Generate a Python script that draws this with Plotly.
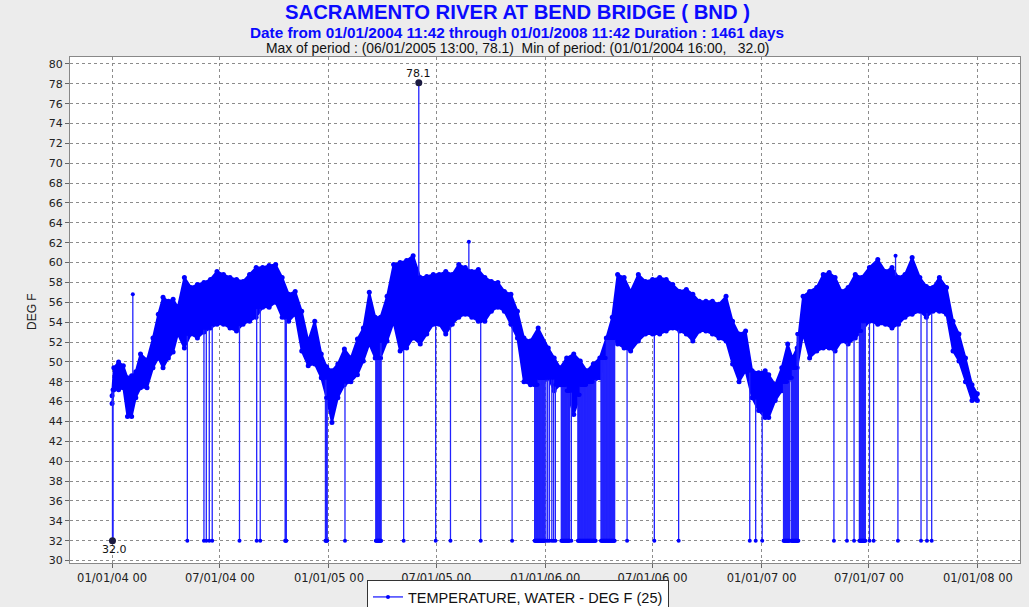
import numpy as np
import pandas as pd
import plotly.graph_objects as go

# ---------------- data ----------------
band_dates = [
    "2004-01-01", "2004-01-04", "2004-01-12", "2004-01-20", "2004-01-27", "2004-02-03", "2004-02-10",
    "2004-02-18", "2004-02-29", "2004-03-10", "2004-03-19", "2004-03-27", "2004-04-05", "2004-04-13",
    "2004-04-21", "2004-05-02", "2004-05-13", "2004-05-24", "2004-06-04", "2004-06-15", "2004-06-26",
    "2004-07-07", "2004-07-18", "2004-07-29", "2004-08-09", "2004-08-20", "2004-08-31", "2004-09-11",
    "2004-09-22", "2004-10-03", "2004-10-14", "2004-10-25", "2004-11-05", "2004-11-16", "2004-11-27",
    "2004-12-08", "2004-12-19", "2004-12-28",
    "2005-01-06", "2005-01-16", "2005-01-27", "2005-02-07", "2005-02-18", "2005-02-28", "2005-03-10",
    "2005-03-20", "2005-03-29", "2005-04-09", "2005-04-20", "2005-05-01", "2005-05-12", "2005-05-23",
    "2005-06-04", "2005-06-15", "2005-06-26", "2005-07-06", "2005-07-17", "2005-07-28", "2005-08-08",
    "2005-08-19", "2005-08-30", "2005-09-10", "2005-09-21", "2005-10-02", "2005-10-13", "2005-10-24",
    "2005-11-04", "2005-11-15", "2005-11-26", "2005-12-07", "2005-12-20",
    "2006-01-06", "2006-01-16", "2006-01-26", "2006-02-06", "2006-02-18", "2006-03-01", "2006-03-12",
    "2006-03-23", "2006-04-03", "2006-04-14", "2006-04-24", "2006-05-03", "2006-05-14", "2006-05-25",
    "2006-06-07", "2006-06-19", "2006-07-01", "2006-07-13", "2006-07-24", "2006-08-04", "2006-08-16",
    "2006-08-27", "2006-09-07", "2006-09-18", "2006-09-29", "2006-10-10", "2006-10-21", "2006-11-02",
    "2006-11-13", "2006-11-24", "2006-12-05", "2006-12-16", "2006-12-27",
    "2007-01-07", "2007-01-13", "2007-01-24", "2007-02-04", "2007-02-14", "2007-02-22", "2007-03-02",
    "2007-03-12", "2007-03-23", "2007-04-04", "2007-04-15", "2007-04-25", "2007-05-05", "2007-05-16",
    "2007-05-27", "2007-06-08", "2007-06-19", "2007-07-02", "2007-07-16", "2007-07-29", "2007-08-09",
    "2007-08-20", "2007-08-31", "2007-09-12", "2007-09-25", "2007-10-06", "2007-10-17", "2007-10-28",
    "2007-11-09", "2007-11-20", "2007-11-30", "2007-12-11", "2007-12-22", "2007-12-31",
]
band_hi = [
    46.6, 49.4, 50.0, 49.6, 48.4, 48.6, 49.0, 50.8, 50.2, 52.4, 54.8, 56.5, 56.1, 56.3, 55.5, 58.5,
    57.5, 57.8, 58.0, 58.3, 59.1, 58.8, 58.5, 58.3, 58.1, 58.8, 59.5, 59.5, 59.7, 59.8, 58.5, 56.8,
    57.1, 55.1, 52.1, 54.1, 50.8, 49.5,
    49.1, 49.8, 51.3, 50.4, 52.3, 53.4, 57.0, 54.5, 54.5, 56.6, 59.8, 60.0, 60.2, 60.7, 58.5, 58.6,
    58.8, 58.8, 59.1, 58.8, 59.8, 59.5, 59.1, 59.3, 58.5, 58.1, 58.0, 57.1, 56.8, 55.1, 52.4, 52.1,
    53.4,
    51.4, 50.4, 49.4, 50.4, 50.8, 50.1, 49.1, 49.8, 50.4, 52.4, 54.5, 58.8, 58.5, 57.1, 58.8, 58.1,
    58.3, 58.5, 58.3, 57.8, 57.1, 57.3, 56.8, 56.1, 56.1, 56.1, 55.8, 56.6, 54.1, 52.8, 53.1, 49.1,
    48.9,
    49.1, 48.7, 47.7, 49.4, 51.8, 50.4, 51.4, 56.6, 57.1, 57.5, 58.8, 59.0, 58.5, 57.1, 57.5, 58.8,
    58.5, 59.5, 60.3, 59.1, 59.5, 58.5, 58.8, 60.5, 58.5, 57.6, 57.5, 58.5, 57.5, 54.1, 52.8, 50.4,
    47.7, 46.8,
]
band_lo = [
    45.8, 47.2, 47.2, 47.4, 44.5, 44.5, 46.4, 47.4, 47.4, 49.4, 50.4, 49.4, 50.4, 51.0, 52.8, 51.4,
    52.8, 52.4, 53.0, 53.4, 53.8, 53.8, 53.4, 53.1, 53.8, 54.1, 54.5, 55.5, 55.5, 56.0, 54.5, 54.1,
    54.8, 51.1, 49.6, 49.8, 48.4, 46.4,
    43.9, 46.4, 47.7, 48.0, 48.7, 50.1, 51.8, 50.4, 50.4, 52.1, 54.0, 51.1, 51.4, 52.4, 51.8, 52.8,
    53.8, 53.8, 52.8, 53.8, 54.5, 54.8, 54.5, 54.1, 54.1, 55.1, 55.5, 55.1, 53.8, 52.4, 48.0, 47.7,
    47.4,
    48.4, 47.1, 47.7, 47.1, 44.7, 46.7, 47.7, 48.0, 48.4, 50.4, 52.4, 51.8, 51.4, 51.1, 52.1, 52.8,
    52.8, 52.8, 53.1, 53.4, 53.1, 52.8, 52.1, 53.1, 53.1, 52.8, 52.4, 52.1, 49.8, 48.0, 49.1, 46.4,
    45.1,
    44.4, 44.4, 46.1, 47.1, 48.0, 48.4, 49.4, 52.8, 50.4, 51.1, 51.4, 51.4, 51.1, 52.1, 51.8, 52.4,
    53.1, 54.1, 53.8, 53.8, 53.4, 53.8, 54.5, 54.8, 55.1, 54.5, 55.1, 55.1, 54.8, 51.1, 50.1, 48.0,
    46.1, 46.1,
]

# readings that dropped to the 32.0 floor (single readings and runs of readings)
drop_value = 32.0
drop_dates = [
    "2004-05-07", "2004-06-04", "2004-06-08", "2004-06-13", "2004-06-18", "2004-08-03", "2004-09-01",
    "2004-09-07", "2005-01-28", "2005-05-07", "2005-06-30", "2005-07-25", "2005-09-14", "2005-11-06",
    "2006-01-02", "2006-01-05", "2006-01-08", "2006-01-12", "2006-01-15", "2006-01-18", "2006-02-14",
    "2006-05-19", "2006-07-04", "2006-08-14", "2006-12-12", "2006-12-22", "2007-01-02", "2007-05-03",
    "2007-05-25", "2007-06-06", "2007-07-02", "2007-07-09", "2007-08-19", "2007-09-27", "2007-10-07",
    "2007-10-15",
]
drop_run_start = ["2004-01-01 16:00", "2004-10-19", "2004-12-26", "2005-03-21", "2005-12-14",
                  "2006-01-28", "2006-02-25", "2006-04-05", "2007-02-07", "2007-02-20", "2007-06-15"]
drop_run_end = ["2004-01-03", "2004-10-21", "2004-12-29", "2005-03-30", "2005-12-31",
                "2006-02-11", "2006-03-27", "2006-04-28", "2007-02-17", "2007-03-04", "2007-06-25"]

# isolated upward spikes
spike_dates = ["2004-02-05", "2005-06-01 13:00", "2005-08-25", "2007-08-15"]
spike_values = [56.8, 78.1, 62.1, 60.7]

max_date, max_value = "2005-06-01 13:00", 78.1
min_date, min_value = "2004-01-01 16:00", 32.0

tick_dates = ["2004-01-01", "2004-07-01", "2005-01-01", "2005-07-01", "2006-01-01",
              "2006-07-01", "2007-01-01", "2007-07-01", "2008-01-01"]
tick_text = ["01/01/04 00", "07/01/04 00", "01/01/05 00", "07/01/05 00", "01/01/06 00",
             "07/01/06 00", "01/01/07 00", "07/01/07 00", "01/01/08 00"]

# ---------------- figure ----------------
BLUE = "#0000ff"
FONT = "Liberation Sans, Arial, sans-serif"
TICKFONT = "DejaVu Sans, Verdana, sans-serif"

bd = pd.to_datetime(band_dates)
bd64 = bd.values
n = len(bd)


def nb(d):
    i = int(np.searchsorted(bd64, np.datetime64(pd.Timestamp(d)), side="right")) - 1
    i = min(max(i, 0), n - 1)
    j = min(i + 1, n - 1)
    return i, j


fig = go.Figure()

# dense daily band of readings
fig.add_trace(go.Scatter(
    x=list(bd) + list(bd[::-1]),
    y=band_hi + band_lo[::-1],
    mode="lines+markers",
    fill="toself", fillcolor=BLUE,
    line=dict(color=BLUE, width=2),
    marker=dict(color=BLUE, size=5),
    showlegend=False, hoverinfo="skip",
))

# dropouts to 32
all_drops = list(pd.to_datetime(drop_dates))
for s, e in zip(drop_run_start, drop_run_end):
    all_drops += list(pd.date_range(s, e, freq="D"))
all_drops.sort()
dx, dy = [], []
for d in all_drops:
    i, j = nb(d)
    dx += [d, d, None]
    dy += [max(band_lo[i], band_lo[j]), drop_value, None]

fig.add_trace(go.Scatter(
    x=dx, y=dy, mode="lines+markers",
    line=dict(color="#2222ff", width=1.3),
    marker=dict(color=BLUE, size=4),
    name="TEMPERATURE, WATER - DEG F (25)",
    showlegend=True, hoverinfo="skip",
))

# upward spikes
sx, sy = [], []
for d, v in zip(spike_dates, spike_values):
    t = pd.Timestamp(d)
    i, j = nb(t)
    sx += [t, t, None]
    sy += [min(band_hi[i], band_hi[j]), v, None]
fig.add_trace(go.Scatter(
    x=sx, y=sy, mode="lines+markers",
    line=dict(color="#2222ff", width=1.3),
    marker=dict(color=BLUE, size=4),
    showlegend=False, hoverinfo="skip",
))

# max / min markers
fig.add_trace(go.Scatter(
    x=[pd.Timestamp(max_date), pd.Timestamp(min_date)], y=[max_value, min_value],
    mode="markers", marker=dict(color="#1a1a40", size=7),
    showlegend=False, hoverinfo="skip",
))
fig.add_annotation(x=pd.Timestamp(max_date), y=max_value, text=f"{max_value:.1f}",
                   showarrow=False, yshift=9, font=dict(family=TICKFONT, size=11, color="#111"))
fig.add_annotation(x=pd.Timestamp(min_date), y=min_value, text=f"{min_value:.1f}",
                   showarrow=False, yshift=-9, xshift=2, font=dict(family=TICKFONT, size=11, color="#111"))

# titles (positions in figure pixels converted to paper coords)
W, H = 1029, 607
L, R, T, B = 70, 9, 57, 44
PW, PH = W - L - R, H - T - B


def px(xp):
    return (xp - L) / PW


def py(yp):
    return (H - B - yp) / PH


cx = px(517)
fig.add_annotation(xref="paper", yref="paper", x=cx, y=py(12), yanchor="middle",
                   text="<b>SACRAMENTO RIVER AT BEND BRIDGE ( BND )</b>", showarrow=False,
                   font=dict(family=FONT, size=20.3, color="#0a0aff"))
fig.add_annotation(xref="paper", yref="paper", x=cx, y=py(32), yanchor="middle",
                   text="<b>Date from 01/01/2004 11:42 through 01/01/2008 11:42 Duration : 1461 days</b>",
                   showarrow=False, font=dict(family=FONT, size=15.3, color="#0a0aff"))
fig.add_annotation(xref="paper", yref="paper", x=cx, y=py(48), yanchor="middle",
                   text="Max of period : (06/01/2005 13:00, 78.1)&nbsp; Min of period: (01/01/2004 16:00,&nbsp;  32.0)",
                   showarrow=False, font=dict(family=FONT, size=13.9, color="#111"))
fig.add_annotation(xref="paper", yref="paper", x=px(23), y=py(312),
                   text="DEG F", textangle=-90, showarrow=False,
                   font=dict(family=FONT, size=12, color="#222"))

fig.update_xaxes(
    type="date", range=["2003-10-22", "2008-03-12"],
    tickvals=pd.to_datetime(tick_dates), ticktext=tick_text,
    showgrid=True, gridcolor="#8c8c8c", griddash="dot", gridwidth=1,
    ticks="outside", ticklen=4, tickcolor="#666",
    showline=True, linecolor="#888", mirror=True, automargin=False,
    tickfont=dict(family=TICKFONT, size=11.5, color="#222"), zeroline=False,
)
fig.update_yaxes(
    range=[29.75, 80.7], tickmode="linear", tick0=30, dtick=2,
    showgrid=True, gridcolor="#8c8c8c", griddash="dot", gridwidth=1,
    ticks="outside", ticklen=4, tickcolor="#666",
    showline=True, linecolor="#888", mirror=True, automargin=False,
    tickfont=dict(family=TICKFONT, size=11, color="#222"), zeroline=False,
)
fig.update_layout(
    width=W, height=H,
    margin=dict(l=L, r=R, t=T, b=B, pad=0, autoexpand=False),
    paper_bgcolor="#ececec", plot_bgcolor="white",
    legend=dict(xref="container", yref="container",
                x=518 / W, xanchor="center", y=1 - 580 / H, yanchor="top",
                orientation="h", bgcolor="white", bordercolor="#333", borderwidth=1,
                itemwidth=30,
                font=dict(family=FONT, size=14.5, color="#111")),
    showlegend=True,
)

fig.write_html(
    "out.html",
    config={"displayModeBar": False},
    post_script="document.body.style.margin='0';document.body.style.background='#ececec';",
)
